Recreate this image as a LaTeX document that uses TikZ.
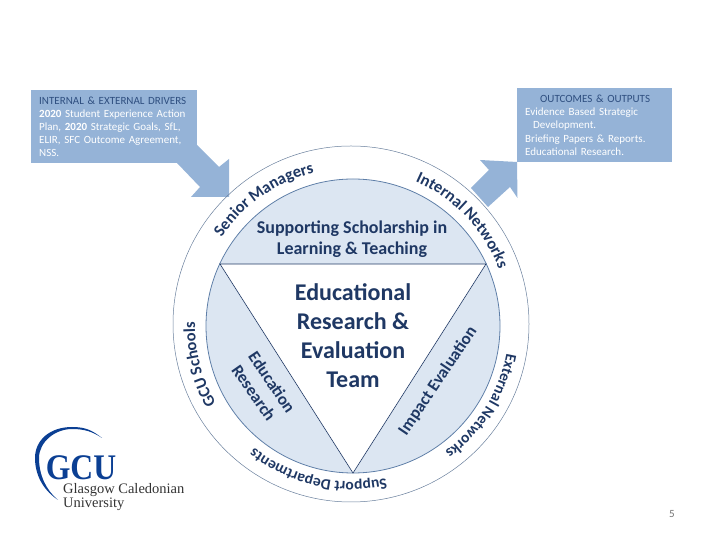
\documentclass[tikz,border=0pt]{standalone}
\usepackage{fontspec}
\setmainfont{Carlito}
\newfontfamily\logofont{Liberation Serif}
\usepackage{xcolor}
\usetikzlibrary{decorations.text}
\definecolor{boxblue}{HTML}{95B3D7}
\definecolor{paleblue}{HTML}{DCE6F2}
\definecolor{ringblue}{HTML}{5F7FA8}
\definecolor{navy}{HTML}{1F3864}
\definecolor{headblue}{HTML}{2F4F80}
\definecolor{logoblue}{HTML}{0B3F93}
\newcommand{\arcfont}{\fontsize{16.5}{20}\selectfont\bfseries\color{navy}}
\newcommand{\arcsmall}{\fontsize{15.5}{20}\selectfont\bfseries\color{navy}}

\begin{document}
\begin{tikzpicture}[x=1pt, y=1pt,
  panel/.style={fill=boxblue, anchor=north west, inner xsep=8pt, inner ysep=0pt,
    align=left, text=white, font=\fontsize{11}{13.2}\selectfont},
  flow/.style={fill=boxblue, draw=none},
  arclabel/.style={decorate, decoration={text along path, text align=center,
    text={|\arcfont|#1}}},
  arcsmalllabel/.style={decorate, decoration={text along path, text align=center,
    text={|\arcsmall|#1}}},
  wedge/.style={font=\fontsize{17}{20}\selectfont\bfseries, text=navy},
  core/.style={align=center, text=navy},
]
  \useasboundingbox (0,0) rectangle (720,540);

  % --- arrows behind the panels --------------------------------------
  \fill[flow] (180,380) -- (197,395) -- (219,373) -- (229,381) -- (229,343)
    -- (191,343) -- (200,353) -- (177,377) -- cycle;
  \fill[flow] (517,378) -- (480,380) -- (489,370) -- (471,352) -- (488,333)
    -- (510,353) -- (517.5,342) -- cycle;

  % --- panels --------------------------------------------------------
  \node[panel, minimum width=166pt, minimum height=73pt, text width=150pt] (drivers) at (31,450) {%
    \textcolor{headblue}{INTERNAL \& EXTERNAL DRIVERS}\\
    \textbf{2020} Student Experience Action\\
    Plan, \textbf{2020} Strategic Goals, SfL,\\
    ELIR, SFC Outcome Agreement,\\
    NSS.};
  \node[panel, minimum width=155pt, minimum height=74pt, text width=139pt] (outputs) at (517,452) {%
    \hspace*{15pt}\textcolor{headblue}{OUTCOMES \& OUTPUTS}\\
    Evidence Based Strategic\\
    \hspace*{8pt}Development.\\
    Briefing Papers \& Reports.\\
    Educational Research.};

  % --- circles and triangle ------------------------------------------
  \draw[ringblue!70!gray, line width=0.5pt] (351,216) circle[radius=178pt];
  \draw[ringblue, fill=paleblue, line width=0.8pt] (353,214) circle[radius=147pt];
  \draw[navy, fill=white, line width=0.6pt] (220,276) -- (486,276) -- (353,67) -- cycle;

  % --- labels round the ring -----------------------------------------
  \path[arclabel={Senior Managers}] (352,215) ++(155:157pt) arc[start angle=155, end angle=95, radius=157pt];
  \path[arclabel={Internal Networks}] (352,215) ++(75:157pt) arc[start angle=75, end angle=12, radius=157pt];
  \path[arclabel={GCU Schools}] (352,215) ++(215:157pt) arc[start angle=215, end angle=174, radius=157pt];
  \path[arcsmalllabel={External Networks}] (352,215) ++(-2:157pt) arc[start angle=-2, end angle=-62, radius=157pt];
  \path[arcsmalllabel={Support Departments}] (352,215) ++(-68:157pt) arc[start angle=-68, end angle=-138, radius=157pt];

  % --- text inside the inner circle ----------------------------------
  \node[core, font=\fontsize{18}{20.5}\selectfont\bfseries] (scholarship) at (352,301)
    {Supporting Scholarship in\\ Learning \& Teaching};
  \node[core, font=\fontsize{24}{29}\selectfont\bfseries] (team) at (353,204)
    {Educational\\ Research \&\\ Evaluation\\ Team};
  \node[wedge, rotate=-56] (education) at (272,158) {Education};
  \node[wedge, rotate=-55] (research) at (254,147) {Research};
  \node[wedge, rotate=56] (impact) at (438,159) {Impact Evaluation};

  % --- logo ----------------------------------------------------------
  \fill[logoblue] (102,102) .. controls (92,110) and (85,113) .. (72,113)
    .. controls (50,113) and (35,100) .. (35,82)
    .. controls (35,62) and (46,48) .. (58,40)
    .. controls (46,50) and (39,65) .. (39,82)
    .. controls (39,98) and (55,111) .. (72,111)
    .. controls (85,111) and (93,108) .. (102,102) -- cycle;
  \node[transform shape, xscale=0.88, text=logoblue, inner sep=0pt,
    font=\logofont\fontsize{36}{36}\selectfont\bfseries] (gcu) at (81,72) {GCU};
  \node[anchor=base west, inner sep=0pt, text=black!80,
    font=\logofont\fontsize{14.5}{15}\selectfont] (glasgow) at (63,46) {Glasgow Caledonian};
  \node[anchor=base west, inner sep=0pt, text=black!80,
    font=\logofont\fontsize{14.5}{15}\selectfont] (university) at (63,32) {University};

  % --- page number ---------------------------------------------------
  \node[text=black!55, font=\fontsize{11}{11}\selectfont] (pagenum) at (672,26) {5};
\end{tikzpicture}
\end{document}
